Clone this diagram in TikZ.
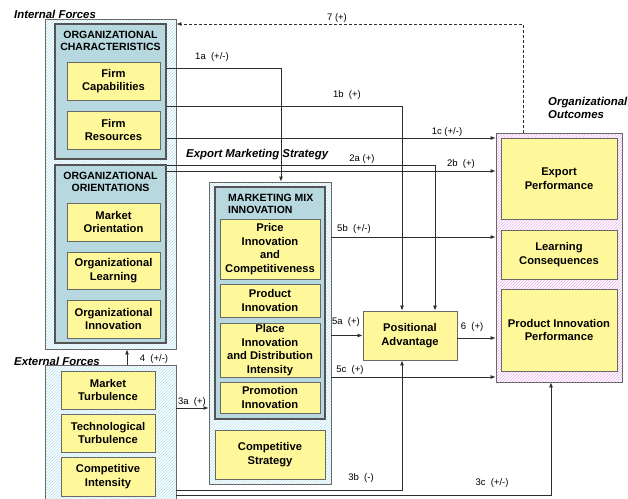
\documentclass[tikz,border=0pt]{standalone}
\usepackage{fontspec}
\setmainfont{Liberation Sans}
\usetikzlibrary{arrows.meta,patterns}

\definecolor{boxyellow}{RGB}{255,248,155}
\definecolor{boxblue}{RGB}{182,216,222}
\definecolor{hatchcyan}{RGB}{175,225,240}
\definecolor{hatchpink}{RGB}{235,175,235}
\definecolor{edgegray}{RGB}{105,105,105}
\definecolor{linegray}{RGB}{45,45,45}

\newcommand{\facfont}{\bfseries\fontsize{11.2}{13.6}\selectfont}
\newcommand{\ttlfont}{\bfseries\fontsize{10.5}{12.4}\selectfont}
\newcommand{\secfont}{\bfseries\itshape\fontsize{11.4}{13.8}\selectfont}
\newcommand{\lblfont}{\fontsize{9.5}{11}\selectfont}

\tikzset{
  hatched/.style={draw=edgegray, line width=0.8pt, preaction={fill=white},
    pattern=north east lines, pattern color=#1, inner sep=0pt},
  groupbox/.style={draw=edgegray!80!black, line width=1.1pt, fill=boxblue, inner sep=0pt},
  factor/.style={draw=edgegray, line width=0.9pt, fill=boxyellow, inner sep=1pt,
    align=center, font=\facfont},
  grouptitle/.style={inner sep=0pt, align=center, font=\ttlfont},
  section/.style={inner sep=0pt, anchor=west, align=left, font=\secfont},
  lbl/.style={inner sep=0pt, font=\lblfont},
  conn/.style={draw=linegray, line width=0.8pt, -{Latex[length=5pt,width=4pt]}},
}

\begin{document}
\begin{tikzpicture}[x=1pt, y=-1pt]
\useasboundingbox (0,0) rectangle (628,498);

% ---------- Internal forces ----------
\node[hatched=hatchcyan, minimum width=131, minimum height=330] (internal) at (110.5,184) {};
\node[groupbox, minimum width=111, minimum height=135] (orgchar) at (110.5,91.5) {};
\node[grouptitle] (orgchartitle) at (110.5,41) {ORGANIZATIONAL\\CHARACTERISTICS};
\node[factor, minimum width=93, minimum height=38] (fcap) at (113.5,81) {Firm\\Capabilities};
\node[factor, minimum width=93, minimum height=38] (fres) at (113.5,130) {Firm\\Resources};

\node[groupbox, minimum width=111, minimum height=178] (orient) at (110.5,254) {};
\node[grouptitle] (orienttitle) at (110.5,182) {ORGANIZATIONAL\\ORIENTATIONS};
\node[factor, minimum width=93, minimum height=38] (mo) at (113.5,222) {Market\\Orientation};
\node[factor, minimum width=93, minimum height=37] (ol) at (113.5,270.5) {Organizational\\Learning};
\node[factor, minimum width=93, minimum height=38] (oi) at (113.5,319) {Organizational\\Innovation};

% ---------- External forces ----------
\node[hatched=hatchcyan, minimum width=131, minimum height=140] (external) at (110.5,435) {};
\node[factor, minimum width=94, minimum height=38] (mt) at (108,390) {Market\\Turbulence};
\node[factor, minimum width=94, minimum height=38] (tt) at (108,433) {Technological\\Turbulence};
\node[factor, minimum width=94, minimum height=39] (ci) at (108,476.5) {Competitive\\Intensity};

% ---------- Export marketing strategy ----------
\node[hatched=hatchcyan, minimum width=122, minimum height=302] (strategy) at (270,333) {};
\node[groupbox, minimum width=110, minimum height=232] (mmi) at (270,303) {};
\node[grouptitle, anchor=west, align=left] (mmititle) at (228,204) {MARKETING MIX\\INNOVATION};
\node[factor, minimum width=100, minimum height=60] (price) at (270,249) {Price\\Innovation\\and\\Competitiveness};
\node[factor, minimum width=100, minimum height=33] (product) at (270,300.5) {Product\\Innovation};
\node[factor, minimum width=100, minimum height=54] (place) at (270,350) {Place\\Innovation\\and Distribution\\Intensity};
\node[factor, minimum width=100, minimum height=31] (promo) at (270,397.5) {Promotion\\Innovation};
\node[factor, minimum width=110, minimum height=49] (compstrat) at (270,454.5) {Competitive\\Strategy};

% ---------- Positional advantage ----------
\node[factor, minimum width=94, minimum height=49] (posadv) at (410,335.5) {Positional\\Advantage};

% ---------- Organizational outcomes ----------
\node[hatched=hatchpink, minimum width=126, minimum height=249] (outcomes) at (559,257.5) {};
\node[factor, minimum width=116, minimum height=81] (export) at (559,178.5) {Export\\Performance};
\node[factor, minimum width=116, minimum height=49] (learn) at (559,254.5) {Learning\\Consequences};
\node[factor, minimum width=116, minimum height=82] (pip) at (559,330) {Product Innovation\\Performance};

% ---------- Section headings ----------
\node[section] (hinternal) at (14,14) {Internal Forces};
\node[section] (hexternal) at (14,361.5) {External Forces};
\node[section] (hstrategy) at (186,155) {Export Marketing Strategy};
\node[section] (houtcomes) at (548,108) {Organizational\\Outcomes};

% ---------- Routing points ----------
\coordinate (r1a) at (281,68);
\coordinate (r1b) at (402,106);
\coordinate (r1c) at (0,138);
\coordinate (r2a) at (435,165);
\coordinate (r2b) at (0,171);
\coordinate (r5b) at (0,237);
\coordinate (r5c) at (0,377);
\coordinate (r6) at (0,338);
\coordinate (r3a) at (0,408);
\coordinate (r3b) at (402,490);
\coordinate (r3c) at (551,495);
\coordinate (r4) at (127,0);
\coordinate (r7) at (523,24);

% ---------- Connectors ----------
\draw[conn] (orgchar.east |- r1a) -- (r1a) -- (r1a |- strategy.north);
\draw[conn] (orgchar.east |- r1b) -- (r1b) -- (r1b |- posadv.north);
\draw[conn] (orgchar.east |- r1c) -- (outcomes.west |- r1c);
\draw[conn] (orient.east |- r2a) -- (r2a) -- (r2a |- posadv.north);
\draw[conn] (orient.east |- r2b) -- (outcomes.west |- r2b);
\draw[conn] (strategy.east |- r5b) -- (outcomes.west |- r5b);
\draw[conn] (strategy.east |- posadv.west) -- (posadv.west);
\draw[conn] (strategy.east |- r5c) -- (outcomes.west |- r5c);
\draw[conn] (posadv.east |- r6) -- (outcomes.west |- r6);
\draw[conn] (external.east |- r3a) -- (strategy.west |- r3a);
\draw[conn] (external.east |- r3b) -- (r3b) -- (r3b |- posadv.south);
\draw[conn] (external.east |- r3c) -- (r3c) -- (r3c |- outcomes.south);
\draw[conn] (r4 |- external.north) -- (r4 |- internal.south);
\draw[conn, dashed, dash pattern=on 3pt off 2pt] (r7 |- outcomes.north) -- (r7) -- (internal.east |- r7);

% ---------- Path labels ----------
\node[lbl] (l7)  at (337,18)  {7 (+)};
\node[lbl] (l1a) at (212,57)  {1a\ \ (+/-)};
\node[lbl] (l1b) at (347,95)  {1b\ \ (+)};
\node[lbl] (l1c) at (447,132) {1c (+/-)};
\node[lbl] (l2a) at (362,159) {2a (+)};
\node[lbl] (l2b) at (461,164) {2b\ \ (+)};
\node[lbl] (l5b) at (354,229) {5b\ \ (+/-)};
\node[lbl] (l5a) at (346,322) {5a\ \ (+)};
\node[lbl] (l5c) at (350,370) {5c\ \ (+)};
\node[lbl] (l6)  at (472,327) {6\ \ (+)};
\node[lbl] (l3a) at (192,402) {3a\ \ (+)};
\node[lbl] (l3b) at (361,478) {3b\ \ (-)};
\node[lbl] (l3c) at (492,483) {3c\ \ (+/-)};
\node[lbl] (l4)  at (154,359) {4\ \ (+/-)};
\end{tikzpicture}
\end{document}
